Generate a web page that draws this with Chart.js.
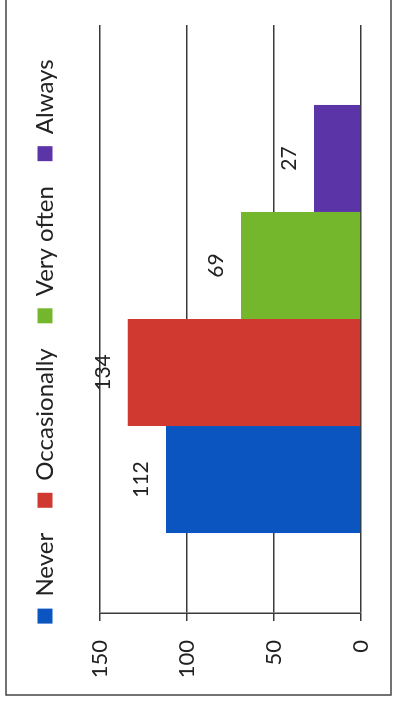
<!DOCTYPE html>
<html>
<head>
<meta charset="utf-8">
<script src="https://cdn.jsdelivr.net/npm/chart.js@4.4.1/dist/chart.umd.min.js"></script>
<style>
  html, body { margin: 0; padding: 0; background: #fff; overflow: hidden; }
  /* the chart is laid out wide and then turned on its side */
  #wrap {
    position: absolute; left: 0; top: 0;
    width: 702px; height: 396px;
    transform-origin: 0 0;
    transform: translate(0, 702px) rotate(-90deg);
  }
</style>
</head>
<body>
<div id="wrap"><canvas id="freqChart" width="702" height="396"></canvas></div>
<script>
const categories = [''];
const seriesNames = ['Never', 'Occasionally', 'Very often', 'Always'];
const seriesValues = [112, 134, 69, 27];
const seriesColors = ['#0b55c0', '#d0392f', '#74b72c', '#5b35a8'];
const valueTicks = [0, 50, 100, 150];

const FONT = 'Lato';
const INK = '#222';
const LINE = '#3a3a3a';

// value printed above each bar
const valueLabels = {
  id: 'valueLabels',
  afterDatasetsDraw(chart) {
    const ctx = chart.ctx;
    ctx.save();
    ctx.font = '21px ' + FONT;
    ctx.fillStyle = INK;
    ctx.textAlign = 'center';
    ctx.textBaseline = 'alphabetic';
    chart.data.datasets.forEach((ds, i) => {
      const bar = chart.getDatasetMeta(i).data[0];
      ctx.fillText(String(ds.data[0]), bar.x, bar.y - 18);
    });
    ctx.restore();
  }
};

// outer border around the whole chart
const chartFrame = {
  id: 'chartFrame',
  beforeDraw(chart) {
    const ctx = chart.ctx;
    ctx.save();
    ctx.strokeStyle = '#444';
    ctx.lineWidth = 1.5;
    ctx.strokeRect(7, 6, 760, 385);
    ctx.restore();
  }
};

// nudge the legend row a little towards the right
const legendShift = {
  id: 'legendShift',
  afterLayout(chart) {
    chart.legend.left += 12;
    chart.legend.right += 12;
  }
};

const ctx = document.getElementById('freqChart').getContext('2d');

new Chart(ctx, {
  type: 'bar',
  data: {
    labels: categories,
    datasets: seriesNames.map((name, i) => ({
      label: name,
      data: [seriesValues[i]],
      backgroundColor: seriesColors[i],
      borderWidth: 0,
      categoryPercentage: 0.728,
      barPercentage: 1
    }))
  },
  options: {
    responsive: false,
    animation: false,
    devicePixelRatio: 1,
    layout: { padding: { left: 20, right: 25, top: 8, bottom: 35 } },
    plugins: {
      legend: {
        position: 'top',
        labels: {
          boxWidth: 15,
          boxHeight: 15,
          padding: 25,
          color: INK,
          font: { family: FONT, size: 24 }
        }
      },
      tooltip: { enabled: false },
      title: { display: false }
    },
    scales: {
      x: {
        position: 'top',
        afterFit(scale) {
          scale.height = 33;
        },
        grid: { display: false },
        border: { display: false },
        ticks: { display: false }
      },
      y: {
        min: 0,
        max: 150,
        afterBuildTicks(scale) {
          scale.ticks = valueTicks.map(v => ({ value: v }));
        },
        afterFit(scale) {
          scale.width = 69;
        },
        grid: { color: LINE, lineWidth: 1.5, tickLength: 8 },
        border: { display: true, color: LINE, width: 1.5 },
        ticks: {
          color: INK,
          padding: 19,
          font: { family: FONT, size: 22 }
        }
      }
    }
  },
  plugins: [chartFrame, legendShift, valueLabels]
});
</script>
</body>
</html>
